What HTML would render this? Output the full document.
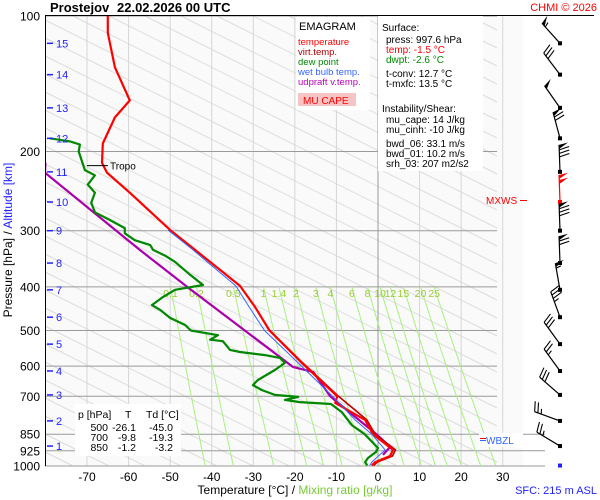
<!DOCTYPE html>
<html><head><meta charset="utf-8"><style>
html,body{margin:0;padding:0;background:#fff;overflow:hidden;width:600px;height:500px;}
svg{display:block;font-family:"Liberation Sans",sans-serif;}
</style></head><body>
<svg id="chart" width="600" height="500" viewBox="0 0 600 500" xmlns="http://www.w3.org/2000/svg">
<defs><clipPath id="plotclip"><rect x="45" y="16" width="478" height="450"/></clipPath></defs>
<rect x="45" y="16" width="478" height="450" fill="#fafafa"/>
<g id="grid"></g>
<g id="curves" clip-path="url(#plotclip)"></g>
<g id="barbs"></g>
<line x1="45" y1="15.5" x2="594" y2="15.5" stroke="#000"/>
<line x1="45.5" y1="16" x2="45.5" y2="466" stroke="#000"/>
<g id="axes"></g>

<text x="50" y="12" font-size="13" font-weight="bold">Prostejov<tspan x="117">22.02.2026 00 UTC</tspan></text>
<text x="597" y="11" font-size="11" fill="#f00" text-anchor="end">CHMI © 2026</text>

<g>
<rect x="296" y="17" width="74" height="93" fill="#fff"/>
<text x="299" y="30" font-size="11">EMAGRAM</text>
<text x="298" y="45" font-size="9.5" fill="#f00">temperature</text>
<text x="298" y="55" font-size="9.5" fill="#a00">virt.temp.</text>
<text x="298" y="65" font-size="9.5" fill="#080">dew point</text>
<text x="298" y="75" font-size="9.5" fill="#36f">wet bulb temp.</text>
<text x="298" y="85" font-size="9.5" fill="#b0b">udpraft v.temp.</text>
<rect x="298" y="93" width="58" height="13" fill="#f6c4c4"/>
<text x="303" y="104" font-size="10" fill="#f00">MU CAPE</text>
</g>

<g font-size="10">
<rect x="378" y="16" width="105" height="155" fill="#fff"/>
<text x="382" y="31">Surface:</text>
<text x="386" y="43">press: 997.6 hPa</text>
<text x="386" y="53" fill="#f00">temp: -1.5 °C</text>
<text x="386" y="63" fill="#080">dwpt: -2.6 °C</text>
<text x="386" y="77">t-conv: 12.7 °C</text>
<text x="386" y="87">t-mxfc: 13.5 °C</text>
<text x="382" y="112">Instability/Shear:</text>
<text x="386" y="123">mu_cape: 14 J/kg</text>
<text x="386" y="133">mu_cinh: -10 J/kg</text>
<text x="386" y="147">bwd_06: 33.1 m/s</text>
<text x="386" y="157">bwd_01: 10.2 m/s</text>
<text x="386" y="167">srh_03: 207 m2/s2</text>
</g>

<g font-size="10.5">
<rect x="75" y="404" width="106" height="52" fill="#fff"/>
<text x="78" y="418">p [hPa]</text><text x="125" y="418">T</text><text x="146" y="418">Td [°C]</text>
<g text-anchor="end">
<text x="108" y="431">500</text><text x="136" y="431">-26.1</text><text x="173" y="431">-45.0</text>
<text x="108" y="441">700</text><text x="136" y="441">-9.8</text><text x="173" y="441">-19.3</text>
<text x="108" y="451">850</text><text x="136" y="451">-1.2</text><text x="173" y="451">-3.2</text>
</g></g>

<text x="486" y="204" font-size="10" fill="#f00">MXWS</text>
<line x1="520" y1="200.5" x2="527" y2="200.5" stroke="#f00"/>
<g>
<rect x="479" y="433" width="44" height="14" fill="#fff"/>
<line x1="480" y1="438.5" x2="486" y2="438.5" stroke="#f00"/><line x1="480" y1="440.5" x2="486" y2="440.5" stroke="#36f"/>
<text x="486" y="444" font-size="10" fill="#36f">WBZL</text></g>

<text x="12" y="240" font-size="12" transform="rotate(-90 12 240)" text-anchor="middle">Pressure [hPa]  /  <tspan fill="#22f">Altitude [km]</tspan></text>
<text x="295" y="494" font-size="12" text-anchor="middle">Temperature [°C]  /  <tspan fill="#7c3">Mixing ratio [g/kg]</tspan></text>
<text x="597" y="494" font-size="11" fill="#22f" text-anchor="end">SFC: 215 m ASL</text>
</svg>
<script>
const pressureTicks=[100,200,300,400,500,600,700,850,925,1000];
const tempTicks=[-70,-60,-50,-40,-30,-20,-10,0,10,20,30];
const mixRatios=[0.1,0.2,0.5,1,1.4,2,3,4,6,8,10,12,15,20,25];
const mixLabels=["0.1","0.2","0.5","1","1.4","2","3","4","6","8","10","12","15","20","25"];
const altKm=[15,14,13,12,11,10,9,8,7,6,5,4,3,2,1];
const altP=[115,135,160,187,222,259,300,354,406,467,536,615,695,794,903];
const tempP=[100,109,130,154,168,192,212,223,247,299,331,398,443,500,584,700,724,790,850,921,950,980,997.6];
const tempT=[-65.0,-65.0,-63.3,-59.7,-63.3,-66.2,-66.4,-65.2,-59.7,-50.0,-44.0,-33.2,-29.6,-26.1,-18.8,-9.8,-10.3,-3.1,-1.2,3.6,2.9,-0.7,-1.5];
const virtP=[500,584,700,790,850,921,950,980,997.6];
const virtT=[-26.0,-18.6,-9.5,-2.7,-0.7,4.2,3.5,-0.2,-1.0];
const dewP=[187,190,193,200,220,226,237,247,260,273,284,296,304,315,323,331,341,352,376,396,406,421,439,450,469,486,500,512,524,528,552,558,567,575,590,612,644,661,678,695,702,713,721,728,759,811,850,912,931,960,980,997.6];
const dewT=[-78.9,-74.1,-71.7,-72.0,-70.5,-68.1,-69.8,-68.1,-69.0,-68.1,-64.5,-60.9,-60.9,-58.5,-54.8,-54.1,-51.2,-48.8,-45.2,-42.1,-48.8,-51.7,-54.4,-52.4,-50.0,-46.4,-45.0,-38.5,-40.4,-37.3,-35.6,-33.2,-27.2,-23.6,-22.4,-24.8,-28.9,-30.1,-27.9,-24.8,-19.2,-22.4,-18.8,-11.3,-8.7,-6.3,-3.2,0.0,-0.5,-2.4,-3.1,-2.6];
const wetP=[299,331,398,443,500,584,700,790,850,921,980,997.6];
const wetT=[-50.5,-44.5,-34.2,-31.0,-27.3,-19.7,-10.9,-5.5,-1.5,1.7,-1.5,-2.0];
const parcelP=[212,223,331,400,603,618,700,751,853,907,945];
const parcelT=[-80.0,-80.1,-57.3,-45.9,-20.4,-15.6,-11.5,-7.5,-0.2,2.9,1.2];
const barbDir=[318,323,325,345,358,358,358,358,350,340,324,324,311,290,301];
const barbSpeed=[55,30,50,70,80,100,80,70,55,35,30,25,30,25,25];

const NS="http://www.w3.org/2000/svg";
const X0=378, KX=4.157, Y0=16, KY=450;
function xT(t){return X0+t*KX;}
function yP(p){return Y0+KY*Math.log10(p/100);}
function mk(tag,attrs,parent){const e=document.createElementNS(NS,tag);for(const k in attrs)e.setAttribute(k,attrs[k]);parent.appendChild(e);return e;}
const grid=document.getElementById('grid'), curves=document.getElementById('curves'), axes=document.getElementById('axes'), barbs=document.getElementById('barbs');

const dg=mk('g',{},grid);


for(let y0=-520;y0<480;y0+=18){
 const xs=Math.max(45,45+2*(16-y0)), xe=Math.min(497,45+2*(466-y0));
 if(xe>xs) mk('line',{x1:xs,y1:y0+0.5*(xs-45),x2:xe,y2:y0+0.5*(xe-45),stroke:'#dcdcdc','stroke-width':1},dg);
}
tempTicks.forEach(t=>{
 const l=mk('line',{x1:xT(t),y1:16,x2:xT(t),y2:466,stroke:t===0?'#999':'#d6d6d6','stroke-width':1},grid);
 
 
 const tx=mk('text',{x:xT(t),y:481,'font-size':12,'text-anchor':'middle'},axes);tx.textContent=String(t);
 
 
});
pressureTicks.forEach(p=>{
 const y=yP(p);
 const l=mk('line',{x1:45,y1:y,x2:p>=850?545:497,y2:y,stroke:'#9a9a9a','stroke-width':1},grid);
 
 
 const tx=mk('text',{x:40,y:y+4.5,'font-size':12,'text-anchor':'end'},axes);tx.textContent=String(p);
 
 
});
function tdW(w,p){const e=w*p/(622+w);const a=Math.log(e/6.112);return 243.5*a/(17.67-a);}
mixRatios.forEach((w,i)=>{
 let pts=[];for(let p=400;p<=1000;p+=20)pts.push(xT(tdW(w,p)).toFixed(1)+','+yP(p).toFixed(1));
 const l=mk('polyline',{points:pts.join(' '),fill:'none',stroke:'#a8f080','stroke-width':1},grid);
 
 
 const tx=mk('text',{x:xT(tdW(w,400)),y:297,'font-size':10.5,'text-anchor':'middle',fill:'#9c3'},grid);tx.textContent=mixLabels[i];
 
 
});
altKm.forEach((k,i)=>{
 const y=yP(altP[i]);
 mk('line',{x1:47,y1:y,x2:53,y2:y,stroke:'#22f','stroke-width':1.5},axes);
 const tx=mk('text',{x:56,y:y+4,'font-size':11,fill:'#22f'},axes);tx.textContent=String(k);
 
 
});
const tr=mk('line',{x1:87,y1:yP(215),x2:108,y2:yP(215),stroke:'#000'},axes);


const trt=mk('text',{x:110,y:yP(215)+4,'font-size':10},axes);trt.textContent='Tropo';



function curve(P,T,color,w,name){
 const pts=P.map((p,i)=>xT(T[i]).toFixed(1)+','+yP(p).toFixed(1)).join(' ');
 const l=mk('polyline',{points:pts,fill:'none',stroke:color,'stroke-width':w,'stroke-linejoin':'round'},curves);
 
 
}
curve(parcelP,parcelT,'#a0a',2.2,'updraft-vtemp-line');
curve(dewP,dewT,'#080',2.2,'dewpoint-line');
curve(virtP,virtT,'#b00',1.6,'virtual-temp-line');
curve(tempP,tempT,'#f00',2.2,'temperature-line');
curve(wetP,wetT,'#36f',1,'wet-bulb-line');

altP.forEach((p,i)=>{
 const bx=560, by=yP(p), d=barbDir[i]*Math.PI/180, L=27;
 const ux=Math.sin(d), uy=-Math.cos(d), rx=Math.cos(d), ry=Math.sin(d);
 const col=i===5?'#f00':'#000';
 const g=mk('g',{},barbs);
 
 
 mk('rect',{x:bx-2,y:by-2,width:4,height:4,fill:col},g);
 const tx=bx+ux*L, ty=by+uy*L;
 mk('line',{x1:bx,y1:by,x2:tx,y2:ty,stroke:col,'stroke-width':1.2},g);
 let s=barbSpeed[i], pos=0;
 while(s>=50){const ax=tx-ux*pos,ay=ty-uy*pos;
  mk('polygon',{points:`${ax},${ay} ${ax+rx*9+ux*2},${ay+ry*9+uy*2} ${ax-ux*4},${ay-uy*4}`,fill:col},g);s-=50;pos+=5;}
 while(s>=10){const ax=tx-ux*pos,ay=ty-uy*pos;
  mk('line',{x1:ax,y1:ay,x2:ax+rx*10+ux*3,y2:ay+ry*10+uy*3,stroke:col,'stroke-width':1.1},g);s-=10;pos+=3.5;}
 if(s>=5){const ax=tx-ux*pos,ay=ty-uy*pos;mk('line',{x1:ax,y1:ay,x2:ax+rx*5+ux*1.5,y2:ay+ry*5+uy*1.5,stroke:col,'stroke-width':1.1},g);}
});
const sfc=mk('rect',{x:558,y:yP(997.6)-2,width:4,height:4,fill:'#22f'},barbs);


</script>
</body></html>
